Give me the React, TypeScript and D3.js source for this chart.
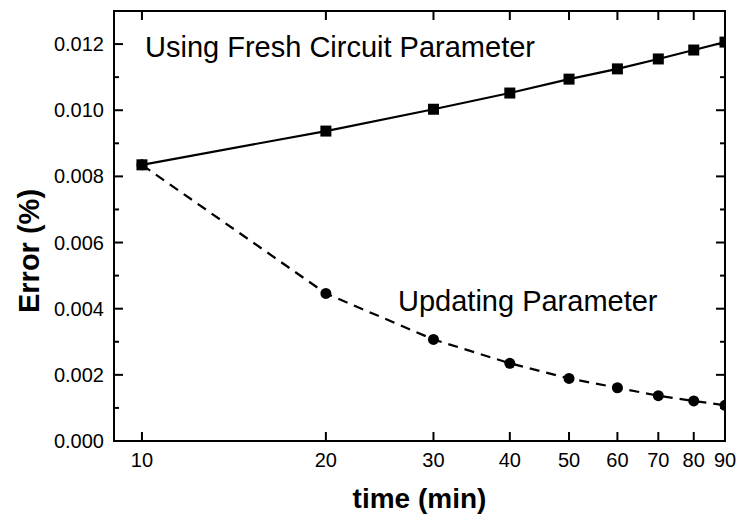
import React from "react";
import * as d3 from "d3";

const times = [10, 20, 30, 40, 50, 60, 70, 80, 90];
const freshError = [0.00835, 0.00937, 0.01003, 0.01052, 0.01094, 0.01125, 0.01155, 0.01182, 0.01206];
const updatingError = [0.00835, 0.00446, 0.00307, 0.00235, 0.00189, 0.00161, 0.00137, 0.00121, 0.00108];
const xTicks = [10, 20, 30, 40, 50, 60, 70, 80, 90];
const yTicks = [0, 0.002, 0.004, 0.006, 0.008, 0.01, 0.012];
const yMinorTicks = [0.001, 0.003, 0.005, 0.007, 0.009, 0.011];
const freshLabel = "Using Fresh Circuit Parameter";
const updatingLabel = "Updating Parameter";

const W = 739, H = 521;
const L = 114, R = 725, T = 11, B = 441;
const FONT = "Liberation Sans, Arial, Helvetica, sans-serif";

export default function App() {
  const x = d3.scaleLog().domain([9, 90]).range([L, R]);
  const y = d3.scaleLinear().domain([0, 0.013]).range([B, T]);
  const line = d3.line<number>().x((_, i) => x(times[i])).y((d) => y(d));
  const fmt = d3.format(".3f");

  return (
    <svg width={W} height={H} style={{ position: "absolute", left: 0, top: 0, background: "#fff" }} fontFamily={FONT}>
      <defs>
        <clipPath id="plotclip">
          <rect x={L} y={T} width={R - L} height={B - T} />
        </clipPath>
      </defs>
      <g clipPath="url(#plotclip)">
        <path d={line(freshError) || ""} fill="none" stroke="#000" strokeWidth={2.2} />
        <path d={line(updatingError) || ""} fill="none" stroke="#000" strokeWidth={2.2} strokeDasharray="10,7" />
        {freshError.map((v, i) => (
          <rect key={"s" + i} x={x(times[i]) - 5.5} y={y(v) - 5.5} width={11} height={11} fill="#000" />
        ))}
        {updatingError.map((v, i) => (
          <circle key={"c" + i} cx={x(times[i])} cy={y(v)} r={5.5} fill="#000" />
        ))}
      </g>
      <rect x={L} y={T} width={R - L} height={B - T} fill="none" stroke="#000" strokeWidth={2} />
      {xTicks.map((t) => (
        <g key={"xt" + t}>
          <line x1={x(t)} x2={x(t)} y1={B} y2={B - 9} stroke="#000" strokeWidth={2} />
          <line x1={x(t)} x2={x(t)} y1={T} y2={T + 9} stroke="#000" strokeWidth={2} />
          <text x={x(t)} y={B + 26} fontSize={20} textAnchor="middle">{t}</text>
        </g>
      ))}
      {yTicks.map((t) => (
        <g key={"yt" + t}>
          <line x1={L} x2={L + 9} y1={y(t)} y2={y(t)} stroke="#000" strokeWidth={2} />
          <line x1={R} x2={R - 9} y1={y(t)} y2={y(t)} stroke="#000" strokeWidth={2} />
          <text x={L - 10} y={y(t) + 7} fontSize={20} textAnchor="end">{fmt(t)}</text>
        </g>
      ))}
      {yMinorTicks.map((t) => (
        <g key={"ym" + t}>
          <line x1={L} x2={L + 5} y1={y(t)} y2={y(t)} stroke="#000" strokeWidth={2} />
          <line x1={R} x2={R - 5} y1={y(t)} y2={y(t)} stroke="#000" strokeWidth={2} />
        </g>
      ))}
      <text x={145} y={57} fontSize={29}>{freshLabel}</text>
      <text x={398} y={311} fontSize={29}>{updatingLabel}</text>
      <text x={(L + R) / 2} y={508} fontSize={28} fontWeight="bold" textAnchor="middle">time (min)</text>
      <text transform={`translate(39, 251) rotate(-90)`} fontSize={29} fontWeight="bold" textAnchor="middle">Error (%)</text>
    </svg>
  );
}
